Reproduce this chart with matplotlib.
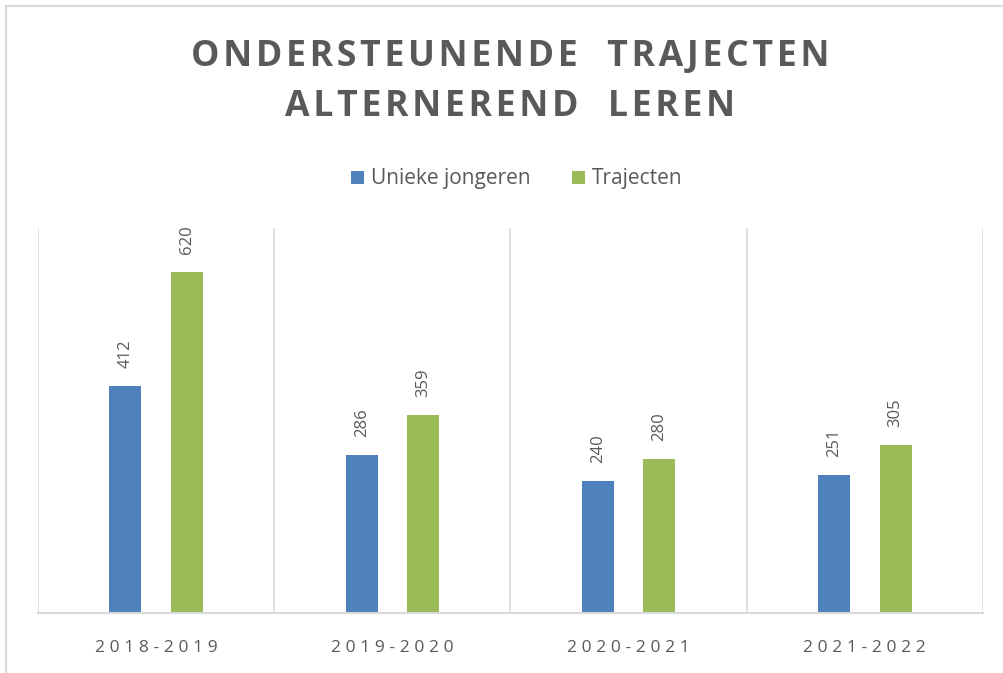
import matplotlib.pyplot as plt
import numpy as np
from matplotlib.patches import Rectangle

schooljaren = ['2018-2019', '2019-2020', '2020-2021', '2021-2022']
unieke_jongeren = [412, 286, 240, 251]
trajecten = [620, 359, 280, 305]

blauw = '#4F81BD'
groen = '#9BBB59'
grijs = '#595959'

def spatie(tekst, sep='\u200a'):
    # Excel-achtige letterafstand nabootsen met haarspaties
    return sep.join(tekst)

def main():
    plt.rcParams['font.family'] = ['Open Sans', 'DejaVu Sans']
    fig = plt.figure(figsize=(10.04, 6.73), dpi=100)
    W, H = 1004, 673
    ax = fig.add_axes([38 / W, (H - 612.5) / H, (983 - 38) / W, (612.5 - 228) / H])

    x = np.arange(len(schooljaren))
    b1 = ax.bar(x - 0.13, unieke_jongeren, width=0.136, color=blauw, label='Unieke jongeren')
    b2 = ax.bar(x + 0.13, trajecten, width=0.136, color=groen, label='Trajecten')

    for bars in (b1, b2):
        for r in bars:
            ax.annotate(str(int(r.get_height())), (r.get_x() + r.get_width() / 2, r.get_height()),
                        xytext=(0, 13), textcoords='offset points', rotation=90,
                        ha='center', va='bottom', fontsize=12, color=grijs)

    ax.set_xlim(-0.5, len(schooljaren) - 0.5)
    ax.set_ylim(0, 700)
    for g in np.arange(-0.5, len(schooljaren), 1.0):
        ax.axvline(g, color='#D9D9D9', lw=1.2, zorder=0)
    for s in ['top', 'right', 'left']:
        ax.spines[s].set_visible(False)
    ax.spines['bottom'].set_color('#D9D9D9')
    ax.spines['bottom'].set_linewidth(1.5)
    ax.set_yticks([])
    ax.set_xticks(x)
    ax.set_xticklabels([spatie(s, '\u2009\u200a') for s in schooljaren], fontsize=12.5, color=grijs)
    ax.tick_params(axis='x', length=0, pad=20)

    fig.text(510 / W, 1 - 57 / H, spatie('ONDERSTEUNENDE  TRAJECTEN'), ha='center', va='center',
             fontsize=25.7, fontweight='bold', color=grijs)
    fig.text(510 / W, 1 - 107 / H, spatie('ALTERNEREND  LEREN'), ha='center', va='center',
             fontsize=25.7, fontweight='bold', color=grijs)

    fig.legend(loc='center', bbox_to_anchor=(517 / W, 1 - 179 / H), ncol=2, frameon=False,
               fontsize=15, labelcolor=grijs, handlelength=0.6, handleheight=0.6,
               handletextpad=0.35, columnspacing=2.0)

    fig.patches.append(Rectangle((6 / W, -0.1), 1.2, 1 - 6 / H + 0.1, transform=fig.transFigure,
                                 fill=False, edgecolor='#D9D9D9', lw=1.5))

    fig.savefig('out.png', dpi=100)

if __name__ == '__main__':
    main()
